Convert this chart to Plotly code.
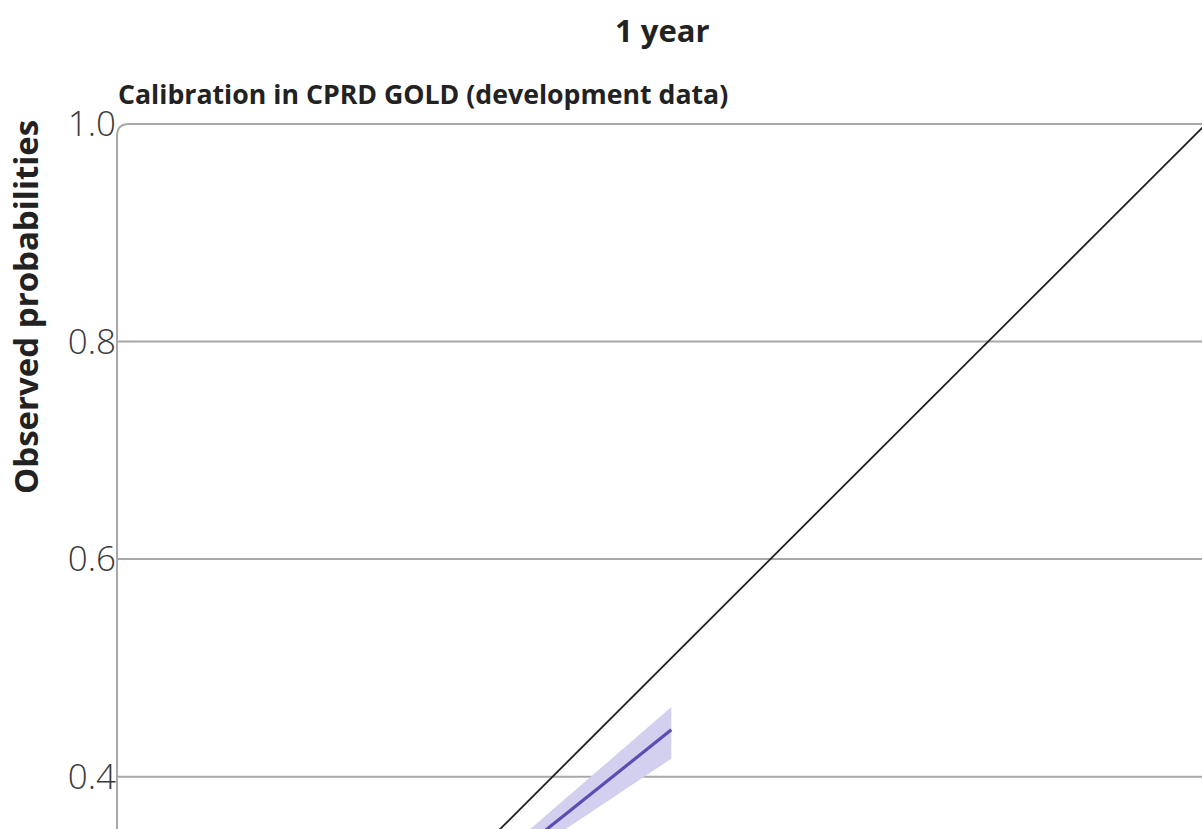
import plotly.graph_objects as go

# Data
predicted = [0.33, 0.36, 0.40, 0.45, 0.509]
observed = [0.300, 0.324, 0.356, 0.396, 0.443]
ci_upper = [0.309, 0.335, 0.370, 0.413, 0.464]
ci_lower = [0.297, 0.317, 0.344, 0.377, 0.4165]
diag = [0.0, 1.0]
y_ticks = [0.4, 0.6, 0.8, 1.0]
y_ticktext = ["0.4", "0.6", "0.8", "1.0"]

W, H = 1202, 829
L, T = 117, 124
pw, ph = W - L, H - T

def px(x):
    return (x - L) / pw

def py(y):
    return (H - y) / ph

fig = go.Figure()

fig.add_trace(go.Scatter(
    x=predicted + predicted[::-1],
    y=ci_upper + ci_lower[::-1],
    fill="toself", fillcolor="#d3d0ef", line=dict(width=0),
    mode="lines", hoverinfo="skip", showlegend=False))

fig.add_trace(go.Scatter(
    x=diag, y=diag, mode="lines",
    line=dict(color="#1e1e1e", width=1.8), showlegend=False))

fig.add_trace(go.Scatter(
    x=predicted, y=observed, mode="lines",
    line=dict(color="#5a4db3", width=3.2), showlegend=False))

font_family = "Open Sans, Noto Sans, sans-serif"

fig.update_layout(
    width=W, height=H,
    margin=dict(l=L, r=0, t=T, b=0),
    paper_bgcolor="white", plot_bgcolor="white",
    showlegend=False,
    font=dict(family=font_family, color="#222"),
    xaxis=dict(range=[0, (1202 - 116) / 1090], showgrid=False, zeroline=False,
               showline=False, showticklabels=False, ticks=""),
    yaxis=dict(range=[(1212 - 829) / 1088.5, 1.0], tickvals=y_ticks, ticktext=y_ticktext,
               showgrid=False, zeroline=False, showline=False, ticks="",
               tickfont=dict(size=35, color="#3a3a3a", family=font_family, weight=300),
               ticklabelstandoff=0),
)

# gridlines
for v in [0.4, 0.6, 0.8]:
    fig.add_shape(type="line", xref="paper", yref="y", x0=0, x1=1, y0=v, y1=v,
                  line=dict(color="#a8a8a8", width=2), layer="below")

# frame with rounded top-left corner
r_x = 12 / pw
r_y = 12 / ph
fig.add_shape(type="path", xref="paper", yref="paper",
              path=f"M 0,0 L 0,{1 - r_y} Q 0,1 {r_x},1 L 1.01,1",
              line=dict(color="#a8a8a8", width=2))

fig.add_annotation(text="<b>1 year</b>", xref="paper", yref="paper",
                   x=px(662), y=py(30), xanchor="center", yanchor="middle",
                   showarrow=False, font=dict(size=31, color="#222", family=font_family))
fig.add_annotation(text="<b>Calibration in CPRD GOLD (development data)</b>", xref="paper", yref="paper",
                   x=px(116), y=py(93), xanchor="left", yanchor="middle",
                   showarrow=False, font=dict(size=26.7, color="#222", family=font_family))
fig.add_annotation(text="<b>Observed probabilities</b>", xref="paper", yref="paper",
                   x=px(25), y=py(307), xanchor="center", yanchor="middle", textangle=-90,
                   borderpad=0,
                   showarrow=False, font=dict(size=33, color="#222", family=font_family))

fig.write_html("out.html", config={"displayModeBar": False},
               post_script="document.body.style.margin='0px';document.body.style.overflow='hidden';")
